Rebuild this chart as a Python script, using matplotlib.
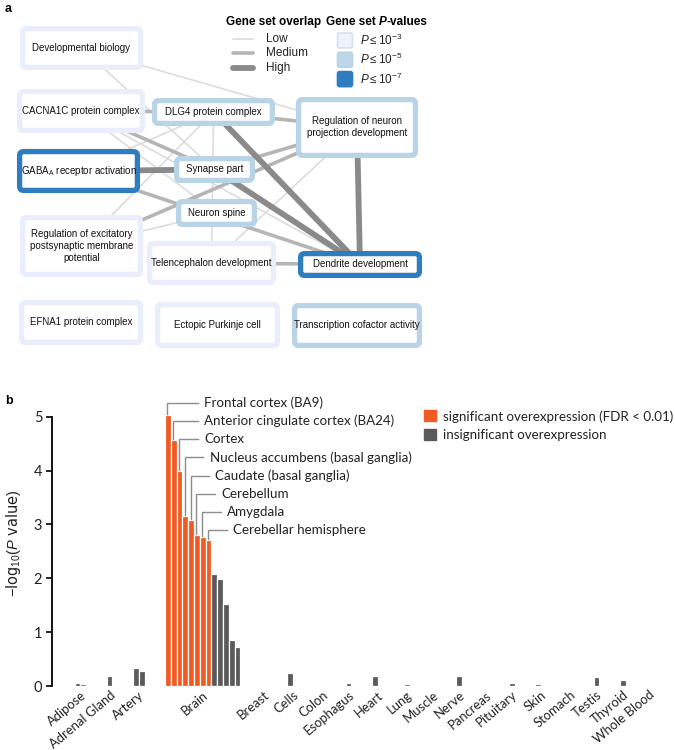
import matplotlib
matplotlib.use("Agg")
import matplotlib.pyplot as plt
from matplotlib import font_manager as fm
from matplotlib.patches import FancyBboxPatch, Patch
import numpy as np

# ---------------- panel a : gene set network ----------------
node_names = ["Developmental biology", "CACNA1C protein complex", "DLG4 protein complex",
              "Regulation of neuron\nprojection development", "GABA$_\\mathregular{A}$ receptor activation",
              "Synapse part", "Neuron spine",
              "Regulation of excitatory\npostsynaptic membrane\npotential",
              "Telencephalon development", "Dendrite development",
              "EFNA1 protein complex", "Ectopic Purkinje cell", "Transcription cofactor activity"]
# -log10 P threshold class of each gene set (3, 5 or 7)
node_pclass = [3, 3, 5, 5, 7, 5, 5, 3, 3, 7, 3, 3, 5]

# edges: (node a, node b, overlap level)
edges = [(0, 3, "Low"), (0, 5, "Low"), (1, 6, "Low"), (2, 7, "Low"), (2, 4, "Low"),
         (2, 8, "Low"), (3, 8, "Low"), (7, 6, "Low"), (1, 9, "Low"),
         (1, 2, "Medium"), (2, 3, "Medium"), (1, 5, "Medium"), (5, 3, "Medium"),
         (4, 9, "Medium"), (3, 7, "Medium"), (8, 9, "Medium"),
         (4, 5, "High"), (3, 9, "High"), (5, 9, "High"), (2, 9, "High")]

# box layout in pixels (x0, y0, x1, y1)
node_boxes = [(20, 26, 143, 70), (17, 89, 145, 133), (152, 98, 275, 126), (296, 97, 418, 158),
              (17, 149, 140, 193), (174, 156, 255, 183), (176, 199, 257, 227), (20, 215, 143, 277),
              (147, 241, 276, 285), (298, 251, 422, 278), (19, 300, 143, 345), (155, 302, 280, 348),
              (292, 303, 422, 348)]

# ---------------- panel b : tissue expression ----------------
tissue_groups = ["Adipose", "Adrenal Gland", "Artery", "Brain", "Breast", "Cells", "Colon",
                 "Esophagus", "Heart", "Lung", "Muscle", "Nerve", "Pancreas", "Pituitary",
                 "Skin", "Stomach", "Testis", "Thyroid", "Whole Blood"]
group_values = [[0.05, 0.03], [0.18], [0.33, 0.27],
                [5.03, 4.57, 3.99, 3.16, 3.08, 2.80, 2.77, 2.71, 2.08, 1.99, 1.52, 0.85, 0.72],
                [0.02], [0.25, 0.02], [0.01], [0.055], [0.19, 0.025], [0.03], [0.01], [0.18],
                [0.0], [0.06], [0.035, 0.02], [0.0], [0.175], [0.11], [0.005]]
n_significant = 8
brain_labels = ["Frontal cortex (BA9)", "Anterior cingulate cortex (BA24)", "Cortex",
                "Nucleus accumbens (basal ganglia)", "Caudate (basal ganglia)", "Cerebellum",
                "Amygdala", "Cerebellar hemisphere"]

# ---------------- styles ----------------
installed = {f.name for f in fm.fontManager.ttflist}
box_font = "Liberation Sans Narrow" if "Liberation Sans Narrow" in installed else "Liberation Sans"
box_size = 8 if box_font.endswith("Narrow") else 7
plt.rcParams["mathtext.fontset"] = "custom"
plt.rcParams["mathtext.rm"] = "Liberation Sans"
plt.rcParams["mathtext.it"] = "Liberation Sans:italic"
plt.rcParams["mathtext.bf"] = "Liberation Sans:bold"

border_col = {3: "#e8eefb", 5: "#b9d3e7", 7: "#2e7dbf"}
fill_col = {3: "#eef3fc", 5: "#bdd6ea", 7: "#2e7dbf"}
edge_style = {"Low": dict(color="#dcdcdc", lw=1.2),
              "Medium": dict(color="#b5b5b5", lw=2.6),
              "High": dict(color="#8a8a8a", lw=4.2)}
orange = "#f15a22"
grey = "#5a5a5a"
txt_col = "#222222"
bfont = "Lato"

fig = plt.figure(figsize=(6.75, 7.5), dpi=100)

# ================= panel a =================
axa = fig.add_axes([0, 380 / 750, 1, 370 / 750])
axa.set_xlim(0, 675)
axa.set_ylim(370, 0)
axa.axis("off")

centres = [((b[0] + b[2]) / 2, (b[1] + b[3]) / 2) for b in node_boxes]
for a, b, lvl in edges:
    axa.plot([centres[a][0], centres[b][0]], [centres[a][1], centres[b][1]],
             solid_capstyle="butt", zorder=1, **edge_style[lvl])

inset = 2.6
for name, box, pc in zip(node_names, node_boxes, node_pclass):
    x0, y0, x1, y1 = box
    axa.add_patch(FancyBboxPatch((x0 + inset, y0 + inset), x1 - x0 - 2 * inset, y1 - y0 - 2 * inset,
                                 boxstyle="round,pad=0,rounding_size=4", fc="white",
                                 ec=border_col[pc], lw=3.8, zorder=2))
    axa.text((x0 + x1) / 2, (y0 + y1) / 2, name, ha="center", va="center", family=box_font,
             fontsize=box_size, linespacing=1.25, zorder=3, color="#111111")

axa.text(5, 9, "a", fontsize=9, fontweight="bold", va="center", family="Liberation Sans")

# legend: overlap
axa.text(226, 22, "Gene set overlap", fontsize=8.5, fontweight="bold", va="center",
         family="Liberation Sans")
for i, lvl in enumerate(["Low", "Medium", "High"]):
    y = 39 + i * 14.5
    axa.plot([233, 253], [y, y], solid_capstyle="round", **edge_style[lvl])
    axa.text(266, y, lvl, fontsize=8.5, va="center", family="Liberation Sans", color=txt_col)

# legend: p-values
t1 = axa.text(326, 22, "Gene set ", fontsize=8.5, fontweight="bold", va="center",
              family="Liberation Sans")
fig.canvas.draw()
inv = axa.transData.inverted()
xe = inv.transform(t1.get_window_extent())[1][0]
t2 = axa.text(xe, 22, "P", fontsize=8.5, fontweight="bold", fontstyle="italic", va="center",
              family="Liberation Sans")
fig.canvas.draw()
xe = inv.transform(t2.get_window_extent())[1][0]
axa.text(xe, 22, "-values", fontsize=8.5, fontweight="bold", va="center", family="Liberation Sans")
for i, pc in enumerate([3, 5, 7]):
    y = 40.5 + i * 19.3
    axa.add_patch(FancyBboxPatch((337.5, y - 7.5), 15, 15, boxstyle="round,pad=0,rounding_size=2",
                                 fc=fill_col[pc], ec=border_col[pc] if pc != 3 else "#d7e0f0",
                                 lw=1.2, zorder=2))
    axa.text(360, y, "$P \\leq 10^{-%d}$" % pc, fontsize=8.5, va="center", color=txt_col)

# ================= panel b =================
pitch = 5.8
xmin = -(77.5 - 52) / pitch
axb = fig.add_axes([52 / 675, 64 / 750, 620 / 675, (686 - 400.5) / 750])
gap = 3.53
xpos, group_centres = [], []
s = 0.0
for vals in group_values:
    xs = s + np.arange(len(vals))
    xpos.append(xs)
    group_centres.append(xs.mean())
    s = xs[-1] + 1 + gap

all_x = np.concatenate(xpos)
all_v = np.concatenate([np.asarray(v, float) for v in group_values])
brain_idx = tissue_groups.index("Brain")
colors = []
for g, vals in enumerate(group_values):
    for j in range(len(vals)):
        colors.append(orange if (g == brain_idx and j < n_significant) else grey)
axb.bar(all_x, all_v, width=1.0, color=colors, edgecolor="white", linewidth=0.9)

bx0 = xpos[brain_idx][0]
for i, lab in enumerate(brain_labels):
    bx = xpos[brain_idx][i]
    top = group_values[brain_idx][i]
    ly = 5.256 - 0.338 * i
    tx = max(bx0 + 6.3, bx + 4.2)
    axb.plot([bx - 0.1, bx - 0.1, tx - 1.1], [top + 0.02, ly, ly], color="#8c8c8c", lw=1.0,
             clip_on=False, solid_joinstyle="miter")
    axb.text(tx, ly, lab, fontsize=9.6, va="center", family=bfont, color=txt_col)

axb.set_xlim(xmin, xmin + 620 / pitch)
axb.set_ylim(0, 5.3)
axb.set_yticks(range(6))
axb.set_xticks(group_centres)
axb.set_xticklabels(tissue_groups, rotation=40, ha="right", rotation_mode="anchor",
                    family=bfont, fontsize=9.4, color=txt_col)
for lab in axb.get_yticklabels():
    lab.set_family(bfont)
    lab.set_fontsize(10.5)
    lab.set_color(txt_col)
axb.tick_params(axis="x", length=0, pad=2)
axb.tick_params(axis="y", length=4, width=1.2, pad=3)
for sp in ["top", "right", "bottom"]:
    axb.spines[sp].set_visible(False)
axb.spines["left"].set_bounds(0, 5)
axb.spines["left"].set_linewidth(1.3)
axb.set_ylabel("$-\\mathregular{log}_{10}(\\mathit{P}\\ \\mathregular{value})$", fontsize=10.5,
               labelpad=8, color=txt_col)

handles = [Patch(color=orange, label="significant overexpression (FDR < 0.01)"),
           Patch(color=grey, label="insignificant overexpression")]
leg = fig.legend(handles=handles, loc="upper left", bbox_to_anchor=(412 / 675, 1 - 398 / 750),
                 frameon=False, handlelength=0.9, handleheight=0.9, handletextpad=0.5,
                 labelspacing=0.45, prop={"family": bfont, "size": 9.6})
for t in leg.get_texts():
    t.set_color(txt_col)

fig.text(5 / 675, 1 - 401 / 750, "b", fontsize=9, fontweight="bold", va="center",
         family="Liberation Sans")

fig.savefig("out.png", dpi=100)
